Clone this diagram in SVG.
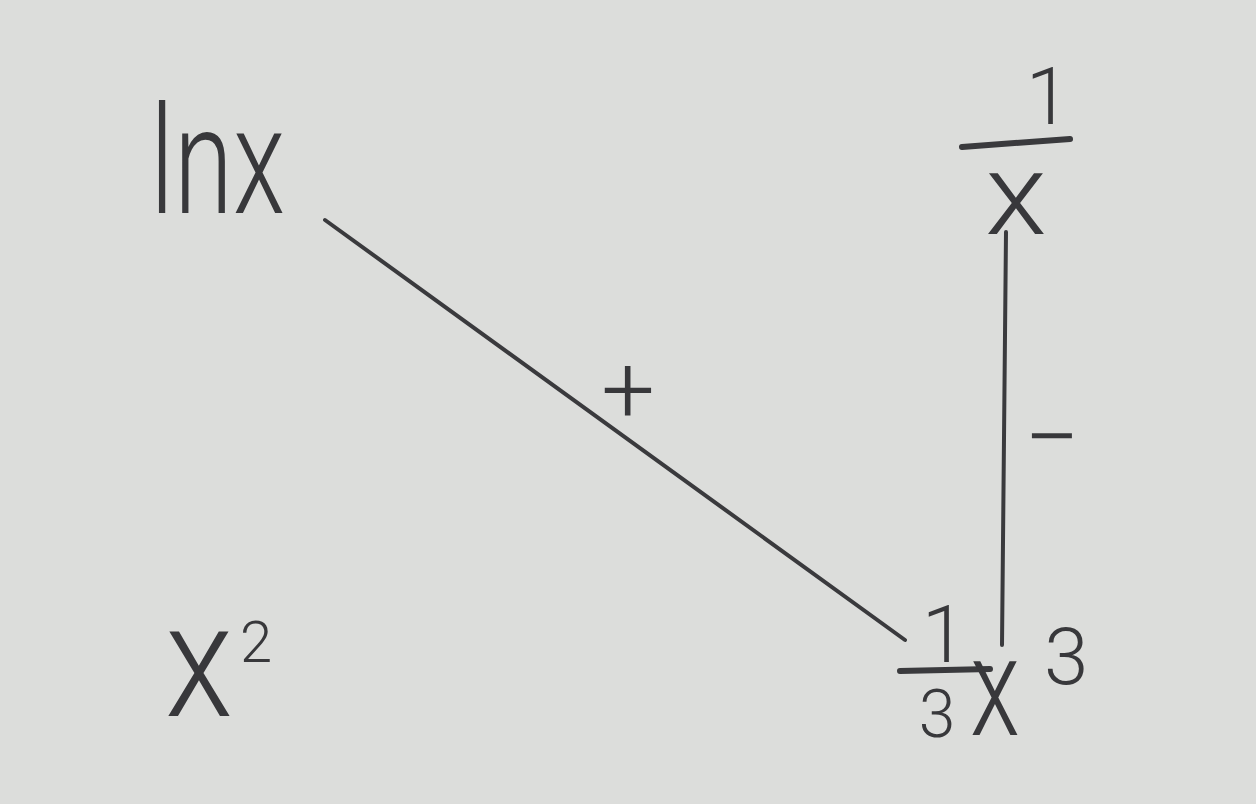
<svg xmlns="http://www.w3.org/2000/svg" width="1256" height="804" viewBox="0 0 1256 804">
<style>
.t{font-family:Roboto,"Liberation Sans",sans-serif;font-weight:300;fill:#38383b}
.ink{stroke:#3a3a3d;stroke-linecap:round;fill:none}
</style>
<rect width="1256" height="804" fill="#dcdddb"/>
<g id="lnx"><text class="t" x="150" y="213" font-size="150" textLength="135" lengthAdjust="spacingAndGlyphs">lnx</text></g>
<g id="inv-x">
<text class="t" x="1048" y="124" font-size="80" text-anchor="middle">1</text>
<line class="ink" x1="962" y1="147" x2="1070" y2="139" stroke-width="6"/>
<text class="t" x="985" y="234" font-size="115" textLength="62" lengthAdjust="spacingAndGlyphs">x</text>
</g>
<g id="x2"><text class="t" x="165" y="716" font-size="160" textLength="68" lengthAdjust="spacingAndGlyphs">x</text><text class="t" x="240" y="662" font-size="58">2</text></g>
<g id="third-x3">
<text class="t" x="944" y="662" font-size="80" text-anchor="middle">1</text>
<line class="ink" x1="900" y1="671" x2="990" y2="669" stroke-width="6"/>
<text class="t" x="937" y="737" font-size="66" text-anchor="middle">3</text>
<text class="t" x="970" y="735" font-size="140" textLength="50" lengthAdjust="spacingAndGlyphs">x</text>
<text class="t" x="1044" y="684" font-size="80">3</text>
</g>
<g id="connectors">
<line class="ink" x1="325" y1="220" x2="905" y2="640" stroke-width="4"/>
<line class="ink" x1="1006" y1="232" x2="1002" y2="645" stroke-width="4"/>
<text class="t" x="628" y="422" font-size="95" text-anchor="middle">+</text>
<text class="t" x="1024" y="472" font-size="100" textLength="56" lengthAdjust="spacingAndGlyphs">−</text>
</g>
</svg>
